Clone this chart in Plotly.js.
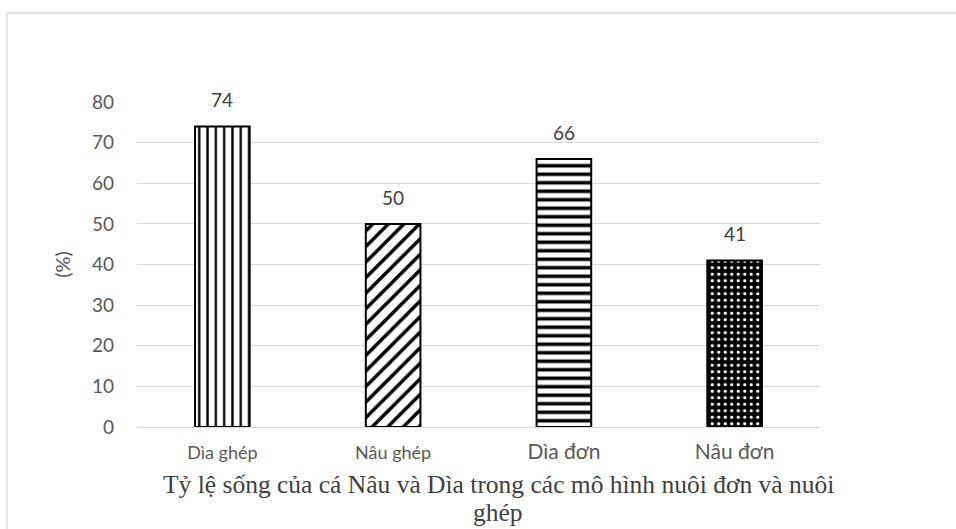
<!DOCTYPE html>
<html>
<head>
<meta charset="utf-8">
<script src="https://cdn.plot.ly/plotly-3.0.1.min.js"></script>
<style>
  html, body { margin: 0; padding: 0; background: #ffffff; }
  #chart { width: 956px; height: 529px; }
</style>
</head>
<body>
<div id="chart"></div>
<script>
// Survival rate (%) per farming model
const categories = ['Dìa ghép', 'Nâu ghép', 'Dìa đơn', 'Nâu đơn'];
const survival = [74, 50, 66, 41];
// first two category labels are set smaller than the last two
const tickSizes = [18, 18, 21, 21];
const yTicks = [0, 10, 20, 30, 40, 50, 60, 70, 80];
const titleLines = ['Tỷ lệ sống của cá Nâu và Dìa trong các mô hình nuôi đơn và nuôi', 'ghép'];

const ML = 137, MR = 136, MT = 102, MB = 102, W = 956, H = 529;
const PW = W - ML - MR, PH = H - MT - MB;
const px2x = p => (p - ML) / PW;
const px2y = p => (H - MB - p) / PH;

const sans = 'Lato, "Open Sans", sans-serif';
const serif = '"Liberation Serif", "Times New Roman", serif';

const trace = {
  type: 'bar',
  x: categories,
  y: survival,
  width: 0.32,
  marker: {
    color: '#ffffff',
    line: { color: '#000000', width: 2 },
    pattern: {
      shape: ['|', '/', '-', '.'],
      fgcolor: ['#000000', '#000000', '#000000', '#ffffff'],
      bgcolor: ['#ffffff', '#ffffff', '#ffffff', '#000000'],
      size: [8.3, 11, 8.5, 6.5],
      solidity: [0.28, 0.32, 0.42, 0.2],
      fillmode: 'replace'
    }
  },
  hoverinfo: 'skip'
};

// value labels above each bar
const valueLabels = categories.map((c, i) => ({
  x: c, y: survival[i], xref: 'x', yref: 'y',
  text: String(survival[i]),
  showarrow: false, yanchor: 'bottom', yshift: 13,
  font: { family: sans, size: 19, color: '#404040' }
}));

// two-line caption under the category labels
const caption = titleLines.map((t, i) => ({
  x: px2x(498), y: px2y(484 + i * 28), xref: 'paper', yref: 'paper',
  text: t, showarrow: false, xanchor: 'center', yanchor: 'middle',
  font: { family: serif, size: 25.5, color: '#404040' }
}));

const layout = {
  width: W, height: H,
  margin: { l: ML, r: MR, t: MT, b: MB },
  paper_bgcolor: '#ffffff',
  plot_bgcolor: '#ffffff',
  showlegend: false,
  xaxis: {
    type: 'category',
    tickmode: 'array',
    tickvals: categories,
    ticktext: categories.map((c, i) => '<span style="font-size:' + tickSizes[i] + 'px">' + c + '</span>'),
    tickfont: { family: sans, size: 18, color: '#595959' },
    showline: true, linecolor: '#d9d9d9', linewidth: 1,
    showgrid: false, zeroline: false, ticks: '',
    ticklabelstandoff: 9
  },
  yaxis: {
    range: [0, 80],
    tickmode: 'array',
    tickvals: yTicks,
    tickfont: { family: sans, size: 19, color: '#595959' },
    showgrid: true, gridcolor: '#d9d9d9', gridwidth: 1,
    zeroline: false, showline: false, ticks: '',
    ticklabelstandoff: 22,
    title: {
      text: '(%)',
      font: { family: sans, size: 20, color: '#595959' },
      standoff: 15
    }
  },
  shapes: [{
    type: 'rect', xref: 'paper', yref: 'paper',
    x0: px2x(7), x1: px2x(965), y0: px2y(540), y1: px2y(13),
    line: { color: '#d9d9d9', width: 1.5 },
    fillcolor: 'rgba(0,0,0,0)', layer: 'below'
  }],
  annotations: valueLabels.concat(caption)
};

Plotly.newPlot('chart', [trace], layout, { displayModeBar: false, staticPlot: true });
</script>
</body>
</html>
